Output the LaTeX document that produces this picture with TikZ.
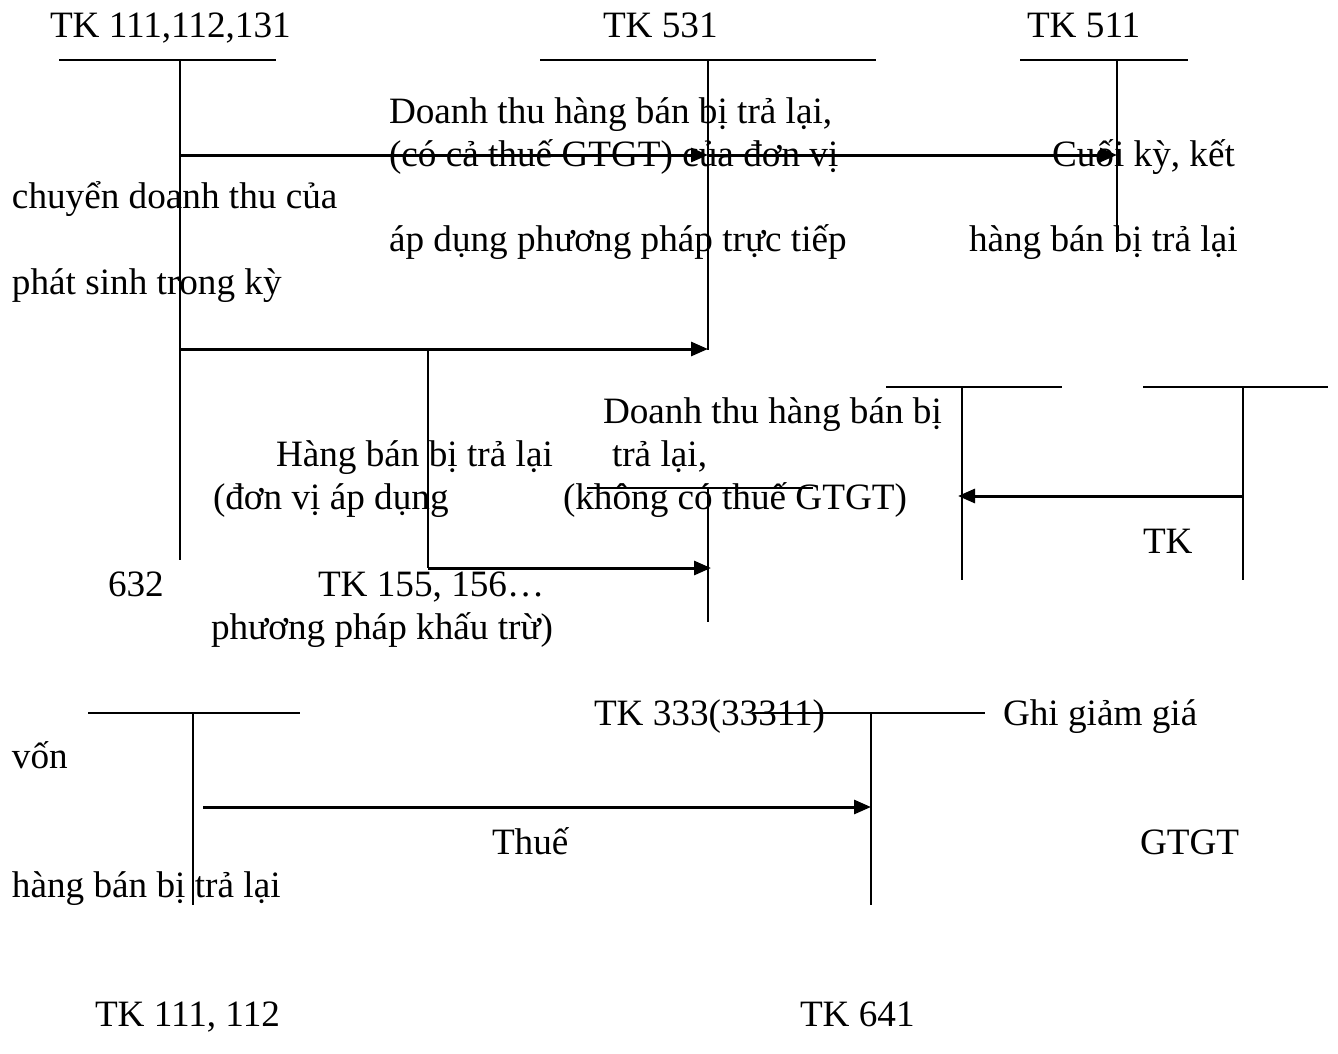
\documentclass[tikz,border=0pt]{standalone}
\usepackage{fontspec}
\setmainfont{Liberation Serif}
\usetikzlibrary{arrows.meta}
\begin{document}
\begin{tikzpicture}[x=1pt,y=-1pt,
  lbl/.style={anchor=base west,inner sep=0pt,outer sep=0pt,font=\fontsize{37.2}{40}\selectfont},
  acc/.style={line width=2pt},
  flow/.style={line width=3pt,-{Triangle[length=17pt,width=14pt]}}]
\useasboundingbox (0,0) rectangle (1338,1053);
% ---- T-account coordinates
\coordinate (a1l) at (59,60);  \coordinate (a1r) at (276,60);  \coordinate (a1t) at (180,60);  \coordinate (a1b) at (180,560);
\coordinate (a2l) at (540,60); \coordinate (a2r) at (876,60);  \coordinate (a2t) at (708,60);  \coordinate (a2b) at (708,350);
\coordinate (a3l) at (1020,60);\coordinate (a3r) at (1188,60); \coordinate (a3t) at (1117,60); \coordinate (a3b) at (1117,252);
\coordinate (a4t) at (428,349); \coordinate (a4b) at (428,568);
\coordinate (a5l) at (587,488); \coordinate (a5r) at (813,488); \coordinate (a5t) at (708,488); \coordinate (a5b) at (708,622);
\coordinate (a6l) at (886,387); \coordinate (a6r) at (1062,387); \coordinate (a6t) at (962,387); \coordinate (a6b) at (962,580);
\coordinate (a7l) at (1143,387);\coordinate (a7r) at (1328,387); \coordinate (a7t) at (1243,387);\coordinate (a7b) at (1243,580);
\coordinate (a8l) at (88,713);  \coordinate (a8r) at (300,713);  \coordinate (a8t) at (193,713);  \coordinate (a8b) at (193,905);
\coordinate (a9l) at (752,713); \coordinate (a9r) at (985,713);  \coordinate (a9t) at (871,713);  \coordinate (a9b) at (871,905);
% flow points
\coordinate (f1a) at (180,155); \coordinate (f1b) at (708,155); \coordinate (f1c) at (1117,155);
\coordinate (f2a) at (180,349); \coordinate (f2b) at (708,349);
\coordinate (f3a) at (428,568); \coordinate (f3b) at (711,568);
\coordinate (f4a) at (1243,496); \coordinate (f4b) at (958,496);
\coordinate (f5a) at (203,807); \coordinate (f5b) at (871,807);
% ---- accounts
\draw[acc] (a1l) -- (a1r) (a1t) -- (a1b);
\draw[acc] (a2l) -- (a2r) (a2t) -- (a2b);
\draw[acc] (a3l) -- (a3r) (a3t) -- (a3b);
\draw[acc] (a4t) -- (a4b);
\draw[acc] (a5l) -- (a5r) (a5t) -- (a5b);
\draw[acc] (a6l) -- (a6r) (a6t) -- (a6b);
\draw[acc] (a7l) -- (a7r) (a7t) -- (a7b);
\draw[acc] (a8l) -- (a8r) (a8t) -- (a8b);
\draw[acc] (a9l) -- (a9r) (a9t) -- (a9b);
% ---- flows
\draw[flow] (f1a) -- (f1b);
\draw[flow] (f1b) -- (f1c);
\draw[flow] (f2a) -- (f2b);
\draw[flow] (f3a) -- (f3b);
\draw[flow] (f4a) -- (f4b);
\draw[flow] (f5a) -- (f5b);
% ---- texts
\node[lbl] (t1) at (50,37) {TK 111,112,131};
\node[lbl] (t2) at (603,37) {TK 531};
\node[lbl] (t3) at (1027,37) {TK 511};
\node[lbl] (t4) at (389,123) {Doanh thu hàng bán bị trả lại,};
\node[lbl] (t5) at (389,166) {(có cả thuế GTGT) của đơn vị};
\node[lbl] (t6) at (1052,166) {Cuối kỳ, kết};
\node[lbl] (t7) at (12,208) {chuyển doanh thu của};
\node[lbl] (t8) at (389,251) {áp dụng phương pháp trực tiếp};
\node[lbl] (t9) at (969,251) {hàng bán bị trả lại};
\node[lbl] (t10) at (12,294) {phát sinh trong kỳ};
\node[lbl] (t11) at (603,423) {Doanh thu hàng bán bị};
\node[lbl] (t12) at (276,466) {Hàng bán bị trả lại};
\node[lbl] (t13) at (612,466) {trả lại,};
\node[lbl] (t14) at (213,509) {(đơn vị áp dụng};
\node[lbl] (t15) at (563,509) {(không có thuế GTGT)};
\node[lbl] (t16) at (1143,553) {TK};
\node[lbl] (t17) at (108,596) {632};
\node[lbl] (t18) at (318,596) {TK 155, 156…};
\node[lbl] (t19) at (211,639) {phương pháp khấu trừ)};
\node[lbl] (t20) at (594,725) {TK 333(33311)};
\node[lbl] (t21) at (1003,725) {Ghi giảm giá};
\node[lbl] (t22) at (12,768) {vốn};
\node[lbl] (t23) at (492,854) {Thuế};
\node[lbl] (t24) at (1140,854) {GTGT};
\node[lbl] (t25) at (12,897) {hàng bán bị trả lại};
\node[lbl] (t26) at (95,1026) {TK 111, 112};
\node[lbl] (t27) at (800,1026) {TK 641};
\end{tikzpicture}
\end{document}
